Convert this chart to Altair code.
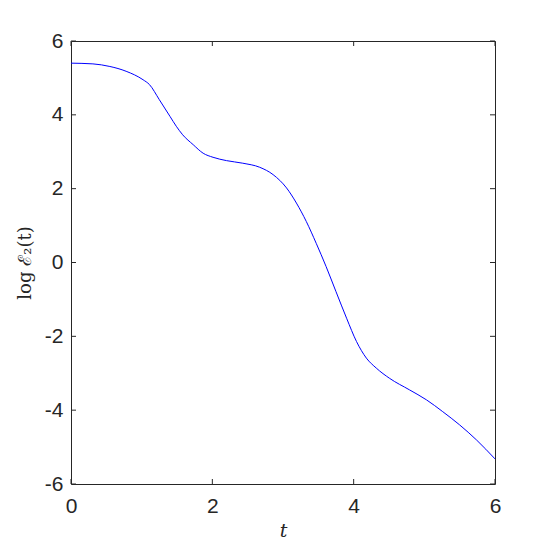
import altair as alt
import pandas as pd

t_vals = [0.0, 0.31, 0.55, 0.78, 1.02, 1.11, 1.25, 1.40, 1.49, 1.58, 1.73, 1.87, 2.01,
          2.20, 2.43, 2.67, 2.86, 3.05, 3.19, 3.33, 3.47, 3.61, 3.75, 3.90, 4.04, 4.18,
          4.32, 4.51, 4.79, 5.03, 5.26, 5.50, 5.74, 6.0]
logE = [5.40, 5.38, 5.31, 5.18, 4.95, 4.82, 4.41, 3.96, 3.69, 3.46, 3.19, 2.96, 2.85,
        2.76, 2.69, 2.58, 2.38, 2.02, 1.61, 1.11, 0.52, -0.11, -0.79, -1.51, -2.14, -2.59,
        -2.86, -3.14, -3.45, -3.72, -4.04, -4.40, -4.81, -5.32]
x_ticks = [0, 2, 4, 6]
y_ticks = [-6, -4, -2, 0, 2, 4, 6]

W, H = 424, 443
TL = 5
AX = "#262626"

df = pd.DataFrame({"t": t_vals, "v": logE})
xt = pd.DataFrame({"t": x_ticks})
yt = pd.DataFrame({"v": y_ticks})

xscale = alt.Scale(domain=[0, 6], nice=False, zero=False)
yscale = alt.Scale(domain=[-6, 6], nice=False, zero=False)

xaxis = alt.Axis(values=x_ticks, title="t", titleFont="DejaVu Serif",
                 titleFontStyle="italic", titleFontWeight="normal", titleFontSize=19,
                 titlePadding=5, labelPadding=11, tickSize=0, domain=False, grid=False,
                 labelFlush=False, labelFont="Liberation Sans", labelFontSize=21,
                 labelColor=AX, titleColor=AX, labelExpr="datum.value + ''")
yaxis = alt.Axis(values=y_ticks, title="log ℰ₂(t)", titleFont="DejaVu Serif",
                 titleFontWeight="normal", titleFontSize=18, titlePadding=10,
                 labelPadding=8, tickSize=0, domain=False, grid=False, labelFlush=False,
                 labelFont="Liberation Sans", labelFontSize=21, labelColor=AX,
                 titleColor=AX, labelExpr="datum.value + ''")

line = alt.Chart(df).mark_line(color="#0000FF", strokeWidth=1, interpolate="monotone").encode(
    x=alt.X("t:Q", scale=xscale, axis=xaxis),
    y=alt.Y("v:Q", scale=yscale, axis=yaxis),
)

bot = alt.Chart(xt).mark_rule(color=AX, strokeWidth=1).encode(
    x=alt.X("t:Q", scale=xscale, axis=xaxis), y=alt.value(H), y2=alt.value(H - TL))
top = alt.Chart(xt).mark_rule(color=AX, strokeWidth=1).encode(
    x=alt.X("t:Q", scale=xscale, axis=xaxis), y=alt.value(0), y2=alt.value(TL))
left = alt.Chart(yt).mark_rule(color=AX, strokeWidth=1).encode(
    y=alt.Y("v:Q", scale=yscale, axis=yaxis), x=alt.value(0), x2=alt.value(TL))
right = alt.Chart(yt).mark_rule(color=AX, strokeWidth=1).encode(
    y=alt.Y("v:Q", scale=yscale, axis=yaxis), x=alt.value(W), x2=alt.value(W - TL))

chart = alt.layer(line, bot, top, left, right).properties(
    width=W, height=H,
    autosize=alt.AutoSizeParams(type="none"),
    padding={"left": 63, "top": 33, "right": 40, "bottom": 58},
).configure_view(stroke=AX, strokeWidth=1)

chart.save("out.html", embed_options={"renderer": "svg", "actions": False})
